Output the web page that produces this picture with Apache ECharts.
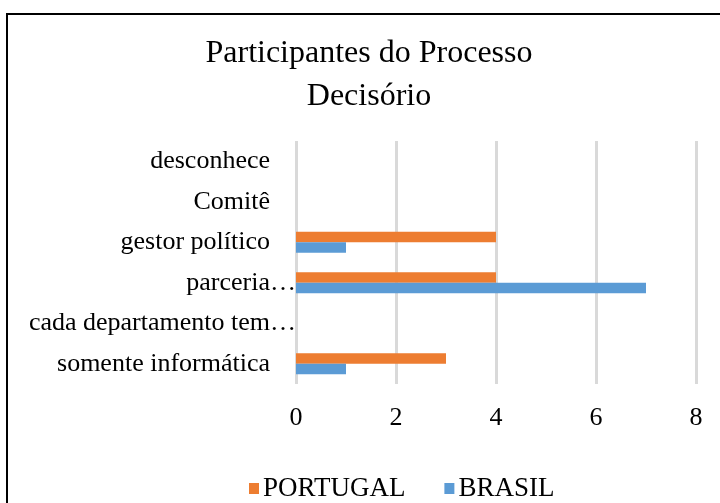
<!DOCTYPE html>
<html lang="pt">
<head>
  <meta charset="utf-8">
</head>
<body style="margin: 0; background: #fff">
<div id="frame" style="position: absolute; left: 6px; top: 13px; width: 740px; height: 520px; border-left: 2px solid #000; border-top: 2px solid #000; box-sizing: border-box"></div>
<div id="container" style="position: absolute; left: 0; top: 0; width: 720px; height: 503px"></div>
<script type="text/javascript" src="https://cdn.jsdelivr.net/npm/echarts@6/dist/echarts.min.js"></script>
<script type="text/javascript">
  // categorias de baixo para cima
  var categories = ['somente informática', 'cada departamento tem…', 'parceria…', 'gestor político', 'Comitê', 'desconhece'];
  var portugal = [3, 0, 4, 4, 0, 0];
  var brasil = [1, 0, 7, 1, 0, 0];
  var xTicks = [0, 2, 4, 6, 8];

  var serif = '"Liberation Serif", "DejaVu Serif", serif';
  var myChart = echarts.init(document.getElementById('container'), null, { renderer: 'canvas' });

  var option = {
    animation: false,
    title: {
      text: 'Participantes do Processo\nDecisório',
      left: 364,
      top: 27,
      textAlign: 'center',
      textStyle: { fontFamily: serif, fontSize: 32, fontWeight: 'normal', color: '#000', lineHeight: 43 }
    },
    legend: {
      top: 470,
      left: 244,
      itemWidth: 10,
      itemHeight: 11,
      itemGap: 39,
      icon: 'rect',
      textStyle: { fontFamily: serif, fontSize: 27, color: '#000', padding: [0, 0, 0, -1] },
      data: ['PORTUGAL', 'BRASIL']
    },
    grid: { left: 296, right: 24, top: 141, bottom: 119 },
    xAxis: {
      type: 'value',
      min: xTicks[0],
      max: xTicks[xTicks.length - 1],
      interval: 2,
      axisLine: { show: false },
      axisTick: { show: false },
      axisLabel: { fontFamily: serif, fontSize: 26, color: '#000', margin: 21 },
      splitLine: { lineStyle: { color: '#d9d9d9', width: 3 } }
    },
    yAxis: {
      type: 'category',
      data: categories,
      axisLine: { show: false },
      axisTick: { show: false },
      axisLabel: {
        margin: 0,
        // rótulos cortados (…) encostam no eixo; os outros ficam afastados
        formatter: function (v) {
          return v.slice(-1) === '…' ? '{t|' + v + '}' : '{t|' + v + '}{s| }';
        },
        rich: {
          t: { fontFamily: serif, fontSize: 26, color: '#000' },
          s: { width: 26, fontSize: 26 }
        }
      }
    },
    series: [
      {
        name: 'PORTUGAL',
        type: 'bar',
        data: portugal,
        barWidth: 10.5,
        barGap: '0%',
        itemStyle: { color: '#ed7d31' }
      },
      {
        name: 'BRASIL',
        type: 'bar',
        data: brasil,
        barWidth: 10.5,
        barGap: '0%',
        itemStyle: { color: '#5b9bd5' }
      }
    ]
  };
  myChart.setOption(option);
</script>
</body>
</html>
